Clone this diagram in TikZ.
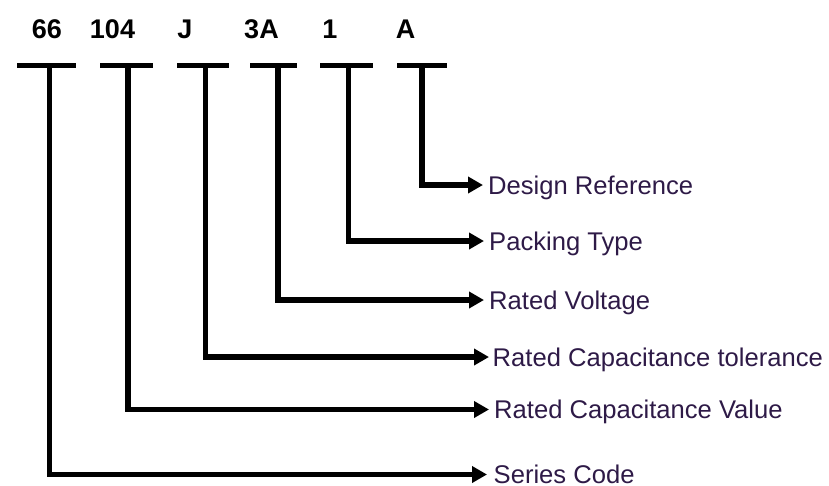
\documentclass[tikz,border=0pt]{standalone}
\usepackage{fontspec}
\setmainfont{Liberation Sans}
\usetikzlibrary{arrows.meta,calc}
\definecolor{labelcol}{HTML}{2E1A47}
\tikzset{
  codelabel/.style={font=\fontsize{27}{30}\selectfont\bfseries, inner sep=0pt, anchor=base},
  desclabel/.style={font=\fontsize{25.6}{28}\selectfont, text=labelcol, inner sep=0pt, anchor=base west},
  barline/.style={line width=5.5pt, line cap=butt},
  conn/.style={line width=5.5pt, line join=miter, -{Triangle[length=15pt,width=16pt]}}
}
\begin{document}
\begin{tikzpicture}[x=1pt,y=-1pt]
\useasboundingbox (0,0) rectangle (829,485);
% code labels
\node[codelabel] (c1) at (47,38.5) {66};
\node[codelabel] (c2) at (112.5,38.5) {104};
\node[codelabel] (c3) at (185,38.5) {J};
\node[codelabel] (c4) at (261.5,38.5) {3A};
\node[codelabel] (c5) at (330,38.5) {1};
\node[codelabel] (c6) at (405.5,38.5) {A};
% bars
\coordinate (b1l) at (17,65.5);  \coordinate (b1r) at (76,65.5);
\coordinate (b2l) at (100,65.5); \coordinate (b2r) at (153,65.5);
\coordinate (b3l) at (177,65.5); \coordinate (b3r) at (229,65.5);
\coordinate (b4l) at (250,65.5); \coordinate (b4r) at (297,65.5);
\coordinate (b5l) at (320,65.5); \coordinate (b5r) at (373,65.5);
\coordinate (b6l) at (397,65.5); \coordinate (b6r) at (447,65.5);
\foreach \i in {1,...,6} {\draw[barline] (b\i l) -- (b\i r);}
% stems
\coordinate (s1) at (49.5,65.5);
\coordinate (s2) at (128,65.5);
\coordinate (s3) at (205.5,65.5);
\coordinate (s4) at (278,65.5);
\coordinate (s5) at (348.5,65.5);
\coordinate (s6) at (422,65.5);
% arrow tips
\coordinate (t6) at (483,185);
\coordinate (t5) at (484,241);
\coordinate (t4) at (484,300);
\coordinate (t3) at (489,357);
\coordinate (t2) at (489,409.5);
\coordinate (t1) at (487,474.5);
% descriptions
\node[desclabel] (d6) at ($(t6)+(5,9)$) {Design Reference};
\node[desclabel] (d5) at ($(t5)+(5,9)$) {Packing Type};
\node[desclabel] (d4) at ($(t4)+(5,9)$) {Rated Voltage};
\node[desclabel] (d3) at ($(t3)+(3.5,9)$) {Rated Capacitance tolerance};
\node[desclabel] (d2) at ($(t2)+(5,9)$) {Rated Capacitance Value};
\node[desclabel] (d1) at ($(t1)+(6.5,8.5)$) {Series Code};
% connectors
\foreach \i in {1,...,6} {\draw[conn] (s\i) |- (t\i);}
\end{tikzpicture}
\end{document}
